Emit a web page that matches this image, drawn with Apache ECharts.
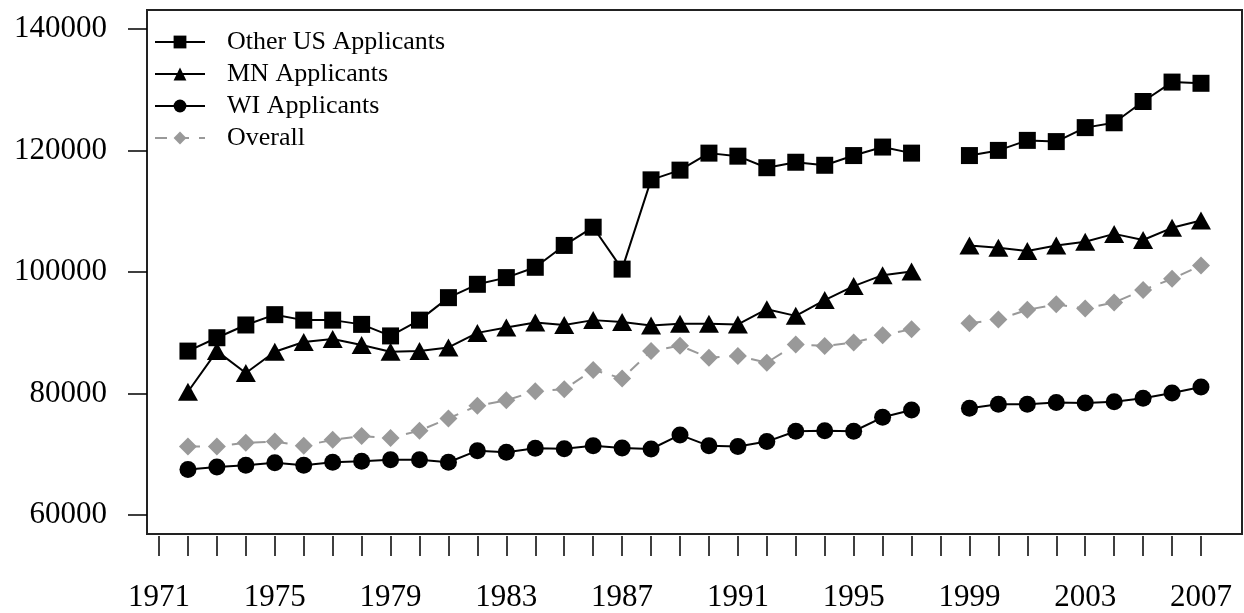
<!DOCTYPE html>
<html>
<head>
<meta charset="utf-8">
<script src="https://cdn.jsdelivr.net/npm/echarts@6/dist/echarts.min.js"></script>
<style>
html,body{margin:0;padding:0;background:#fff;}
#chart{width:1244px;height:613px;}
</style>
</head>
<body>
<div id="chart"></div>
<script>
const years = [1972,1973,1974,1975,1976,1977,1978,1979,1980,1981,1982,1983,1984,1985,1986,1987,1988,1989,1990,1991,1992,1993,1994,1995,1996,1997,1998,1999,2000,2001,2002,2003,2004,2005,2006,2007];
const otherUS = [87000,89200,91300,93000,92100,92100,91400,89500,92100,95800,98000,99100,100800,104400,107400,100500,115200,116800,119600,119100,117200,118100,117600,119200,120600,119600,null,119200,120050,121700,121500,123800,124600,128100,131300,131100];
const mnApplicants = [80300,87000,83400,86900,88500,89000,88000,86900,87000,87600,90000,90900,91700,91300,92100,91800,91200,91500,91500,91400,93900,92800,95400,97700,99500,100100,null,104400,104000,103500,104400,105000,106300,105300,107300,108500];
const wiApplicants = [67500,67900,68200,68600,68200,68700,68850,69100,69100,68700,70600,70350,71000,70900,71400,71050,70880,73200,71400,71300,72100,73800,73900,73800,76100,77300,null,77600,78250,78250,78550,78450,78650,79250,80100,81100];
const overall = [71300,71300,71900,72100,71400,72400,73000,72700,73900,75900,78000,78900,80400,80700,83900,82500,87000,87900,85900,86200,85100,88100,87850,88400,89600,90600,null,91600,92200,93800,94700,94000,95000,97050,98900,101100];
const seriesNames = ['Other US Applicants','MN Applicants','WI Applicants','Overall'];
const xTickYears = [1971,1972,1973,1974,1975,1976,1977,1978,1979,1980,1981,1982,1983,1984,1985,1986,1987,1988,1989,1990,1991,1992,1993,1994,1995,1996,1997,1998,1999,2000,2001,2002,2003,2004,2005,2006,2007];
const xLabelYears = [1971,1975,1979,1983,1987,1991,1995,1999,2003,2007];
const yTicks = [60000,80000,100000,120000,140000];

function pairs(vals){ return years.map((y,i)=>[y, vals[i]]); }

const FONT = '"Liberation Serif", "DejaVu Serif", serif';
const chart = echarts.init(document.getElementById('chart'), null, {renderer:'canvas'});
const blackLine = {color:'#000', width:2};
chart.setOption({
  animation:false,
  backgroundColor:'#fff',
  grid:{left:147, right:2, top:10, bottom:78, show:true, borderColor:'#222', borderWidth:2, backgroundColor:'transparent'},
  legend:{
    orient:'vertical', left:154, top:29, padding:0, itemWidth:50, itemHeight:16, itemGap:6,
    textStyle:{fontFamily:FONT, fontSize:26, lineHeight:26, color:'#000', padding:[0,0,0,17]},
    data:seriesNames
  },
  xAxis:{
    type:'value', min:1970.585, max:2008.417, offset:2,
    axisLine:{show:false},
    splitLine:{show:false},
    axisTick:{show:true, length:20, lineStyle:{color:'#000', width:1.5}, customValues:xTickYears},
    axisLabel:{margin:46, fontFamily:FONT, fontSize:31, color:'#000', customValues:xLabelYears, formatter:v=>String(v)}
  },
  yAxis:{
    type:'value', min:56880, max:143170,
    axisLine:{show:false},
    splitLine:{show:false},
    axisTick:{show:true, length:19, lineStyle:{color:'#000', width:1.5}, customValues:yTicks},
    axisLabel:{margin:40, fontFamily:FONT, fontSize:31, color:'#000', customValues:yTicks, formatter:v=>String(v)}
  },
  series:[
    {name:seriesNames[0], type:'line', data:pairs(otherUS), connectNulls:false, symbol:'rect', symbolSize:17, lineStyle:blackLine, itemStyle:{color:'#000'}},
    {name:seriesNames[1], type:'line', data:pairs(mnApplicants), connectNulls:false, symbol:'triangle', symbolSize:[20,18], lineStyle:blackLine, itemStyle:{color:'#000'}},
    {name:seriesNames[2], type:'line', data:pairs(wiApplicants), connectNulls:false, symbol:'circle', symbolSize:17, lineStyle:blackLine, itemStyle:{color:'#000'}},
    {name:seriesNames[3], type:'line', data:pairs(overall), connectNulls:false, symbol:'diamond', symbolSize:[18,18], lineStyle:{color:'#999', width:2, type:[12,10]}, itemStyle:{color:'#999'}}
  ]
});
</script>
</body>
</html>
